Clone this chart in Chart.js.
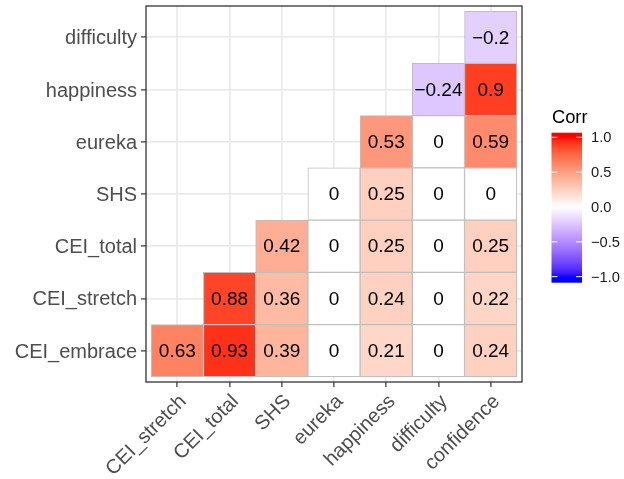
<!DOCTYPE html>
<html>
<head>
<meta charset="utf-8">
<script src="https://cdn.jsdelivr.net/npm/chart.js@4/dist/chart.umd.min.js"></script>
<style>
  html, body { margin: 0; padding: 0; background: #ffffff; }
  #wrap { width: 624px; height: 479px; }
</style>
</head>
<body>
<div id="wrap"><canvas id="corr" width="624" height="479"></canvas></div>
<script>
// Variables on each axis
const colLabels = ['CEI_stretch', 'CEI_total', 'SHS', 'eureka', 'happiness', 'difficulty', 'confidence'];
const rowLabels = ['CEI_embrace', 'CEI_stretch', 'CEI_total', 'SHS', 'eureka', 'happiness', 'difficulty'];

// Correlations, one row per variable (null = upper triangle, not drawn)
const corrCEIembrace = [0.63, 0.93, 0.39, 0, 0.21, 0, 0.24];
const corrCEIstretch = [null, 0.88, 0.36, 0, 0.24, 0, 0.22];
const corrCEItotal   = [null, null, 0.42, 0, 0.25, 0, 0.25];
const corrSHS        = [null, null, null, 0, 0.25, 0, 0];
const corrEureka     = [null, null, null, null, 0.53, 0, 0.59];
const corrHappiness  = [null, null, null, null, null, -0.24, 0.9];
const corrDifficulty = [null, null, null, null, null, null, -0.2];

// Colour bar breaks
const legendTicks = [1.0, 0.5, 0.0, -0.5, -1.0];
const legendTitle = 'Corr';

const corrRows = [corrCEIembrace, corrCEIstretch, corrCEItotal, corrSHS, corrEureka, corrHappiness, corrDifficulty];

// ---- Lab colour interpolation (blue - white - red) ----
const WX = 0.95047, WY = 1.0, WZ = 1.08883;
function toLin(c) { c /= 255; return c <= 0.04045 ? c / 12.92 : Math.pow((c + 0.055) / 1.055, 2.4); }
function toSrgb(c) {
  c = c <= 0.0031308 ? 12.92 * c : 1.055 * Math.pow(c, 1 / 2.4) - 0.055;
  return Math.round(Math.max(0, Math.min(1, c)) * 255);
}
function fLab(t) { return t > 0.008856 ? Math.cbrt(t) : (7.787 * t + 16 / 116); }
function fInv(t) { return t > 0.206893 ? t * t * t : (t - 16 / 116) / 7.787; }
function hexToLab(hex) {
  const r = toLin(parseInt(hex.slice(1, 3), 16));
  const g = toLin(parseInt(hex.slice(3, 5), 16));
  const b = toLin(parseInt(hex.slice(5, 7), 16));
  const X = 0.4124 * r + 0.3576 * g + 0.1805 * b;
  const Y = 0.2126 * r + 0.7152 * g + 0.0722 * b;
  const Z = 0.0193 * r + 0.1192 * g + 0.9505 * b;
  const fx = fLab(X / WX), fy = fLab(Y / WY), fz = fLab(Z / WZ);
  return [116 * fy - 16, 500 * (fx - fy), 200 * (fy - fz)];
}
function labToRgb(L, a, bb) {
  const fy = (L + 16) / 116, fx = fy + a / 500, fz = fy - bb / 200;
  const X = WX * fInv(fx), Y = WY * fInv(fy), Z = WZ * fInv(fz);
  const r = 3.2406 * X - 1.5372 * Y - 0.4986 * Z;
  const g = -0.9689 * X + 1.8758 * Y + 0.0415 * Z;
  const b = 0.0557 * X - 0.2040 * Y + 1.0570 * Z;
  return 'rgb(' + toSrgb(r) + ',' + toSrgb(g) + ',' + toSrgb(b) + ')';
}
const LAB_LOW = hexToLab('#0000FF'), LAB_MID = hexToLab('#FFFFFF'), LAB_HIGH = hexToLab('#FF0000');
function corrColor(v) {
  v = Math.max(-1, Math.min(1, v));
  const end = v >= 0 ? LAB_HIGH : LAB_LOW;
  const t = Math.abs(v);
  return labToRgb(
    LAB_MID[0] + (end[0] - LAB_MID[0]) * t,
    LAB_MID[1] + (end[1] - LAB_MID[1]) * t,
    LAB_MID[2] + (end[2] - LAB_MID[2]) * t
  );
}
function fmt(v) {
  const s = String(v);
  return s.charAt(0) === '-' ? '\u2212' + s.slice(1) : s;
}

// One floating-bar dataset per row: each cell spans its row's band on the y scale
const datasets = corrRows.map((vals, r) => ({
  label: rowLabels[r],
  data: vals.map((v, c) => v === null ? null : { x: c + 1, y: [r + 0.5, r + 1.5], v: v }).filter(Boolean),
  backgroundColor: ctx => corrColor(ctx.raw.v),
  borderColor: '#BEBEBE',
  borderWidth: 1,
  borderSkipped: false,
  grouped: false,
  barPercentage: 1,
  categoryPercentage: 1
}));

const FONT = "'Liberation Sans', Arial, sans-serif";
const AXIS_TEXT = '#4D4D4D';

// Cell value labels
const cellLabels = {
  id: 'cellLabels',
  afterDatasetsDraw(chart) {
    const ctx = chart.ctx;
    ctx.save();
    ctx.font = '19px ' + FONT;
    ctx.fillStyle = '#000000';
    ctx.textAlign = 'center';
    ctx.textBaseline = 'middle';
    chart.data.datasets.forEach((ds, i) => {
      chart.getDatasetMeta(i).data.forEach((el, j) => {
        const p = el.getCenterPoint();
        ctx.fillText(fmt(ds.data[j].v), p.x, p.y + 1);
      });
    });
    ctx.restore();
  }
};

// Panel border
const panelBorder = {
  id: 'panelBorder',
  afterDatasetsDraw(chart) {
    const a = chart.chartArea, ctx = chart.ctx;
    ctx.save();
    ctx.strokeStyle = '#333333';
    ctx.lineWidth = 1.3;
    ctx.strokeRect(a.left, a.top, a.right - a.left, a.bottom - a.top);
    ctx.restore();
  }
};

// Colour bar legend
const colourBar = {
  id: 'colourBar',
  afterDraw(chart) {
    const ctx = chart.ctx;
    const x0 = 551.5, w = 30.5, yTop = 132.7, yBot = 282.7;
    const yHi = 137.3, yLo = 276.7;             // positions of +1 and -1
    const valAt = y => 1 - (y - yHi) / (yLo - yHi) * 2;
    const yOf = v => yHi + (1 - v) / 2 * (yLo - yHi);
    ctx.save();
    // title
    ctx.font = '18.3px ' + FONT;
    ctx.fillStyle = '#000000';
    ctx.textAlign = 'left';
    ctx.textBaseline = 'alphabetic';
    ctx.fillText(legendTitle, 552, 122.5);
    // gradient
    const grad = ctx.createLinearGradient(0, yTop, 0, yBot);
    const steps = 60;
    for (let i = 0; i <= steps; i++) {
      const y = yTop + (yBot - yTop) * i / steps;
      grad.addColorStop(i / steps, corrColor(valAt(y)));
    }
    ctx.fillStyle = grad;
    ctx.fillRect(x0, yTop, w, yBot - yTop);
    // tick marks and labels
    ctx.strokeStyle = '#FFFFFF';
    ctx.lineWidth = 1;
    ctx.font = '14.7px ' + FONT;
    ctx.fillStyle = '#1A1A1A';
    ctx.textBaseline = 'middle';
    legendTicks.forEach(v => {
      const y = yOf(v);
      ctx.beginPath();
      ctx.moveTo(x0, y); ctx.lineTo(x0 + 6, y);
      ctx.moveTo(x0 + w - 6, y); ctx.lineTo(x0 + w, y);
      ctx.stroke();
      ctx.fillText(fmt(v.toFixed(1)), 591, y + 1);
    });
    ctx.restore();
  }
};

const intTicks = scale => { scale.ticks = [1, 2, 3, 4, 5, 6, 7].map(v => ({ value: v })); };

new Chart(document.getElementById('corr'), {
  type: 'bar',
  data: { datasets: datasets },
  options: {
    responsive: false,
    devicePixelRatio: 1,
    animation: false,
    layout: { padding: { top: 6, right: 102, left: 0, bottom: 0 } },
    plugins: { legend: { display: false }, tooltip: { enabled: false } },
    scales: {
      x: {
        type: 'linear',
        offset: false,
        min: 0.4, max: 7.6,
        afterBuildTicks: intTicks,
        afterFit: s => { s.height = 97; s.paddingLeft = 0; s.paddingRight = 0; },
        grid: { offset: false, color: '#EBEBEB', lineWidth: 1.8, tickColor: '#333333', tickWidth: 1.2, tickLength: 5 },
        border: { display: false },
        ticks: {
          autoSkip: false, minRotation: 45, maxRotation: 45, padding: 3, labelOffset: 6,
          color: AXIS_TEXT, font: { family: FONT, size: 20 },
          callback: v => colLabels[v - 1]
        }
      },
      y: {
        type: 'linear',
        offset: false,
        min: 0.4, max: 7.6,
        afterBuildTicks: intTicks,
        afterFit: s => { s.width = 146; s.paddingTop = 0; s.paddingBottom = 0; },
        grid: { offset: false, color: '#EBEBEB', lineWidth: 1.8, tickColor: '#333333', tickWidth: 1.2, tickLength: 5 },
        border: { display: false },
        ticks: {
          autoSkip: false, padding: 4, labelOffset: 1.5,
          color: AXIS_TEXT, font: { family: FONT, size: 20 },
          callback: v => rowLabels[v - 1]
        }
      }
    }
  },
  plugins: [cellLabels, panelBorder, colourBar]
});
</script>
</body>
</html>
